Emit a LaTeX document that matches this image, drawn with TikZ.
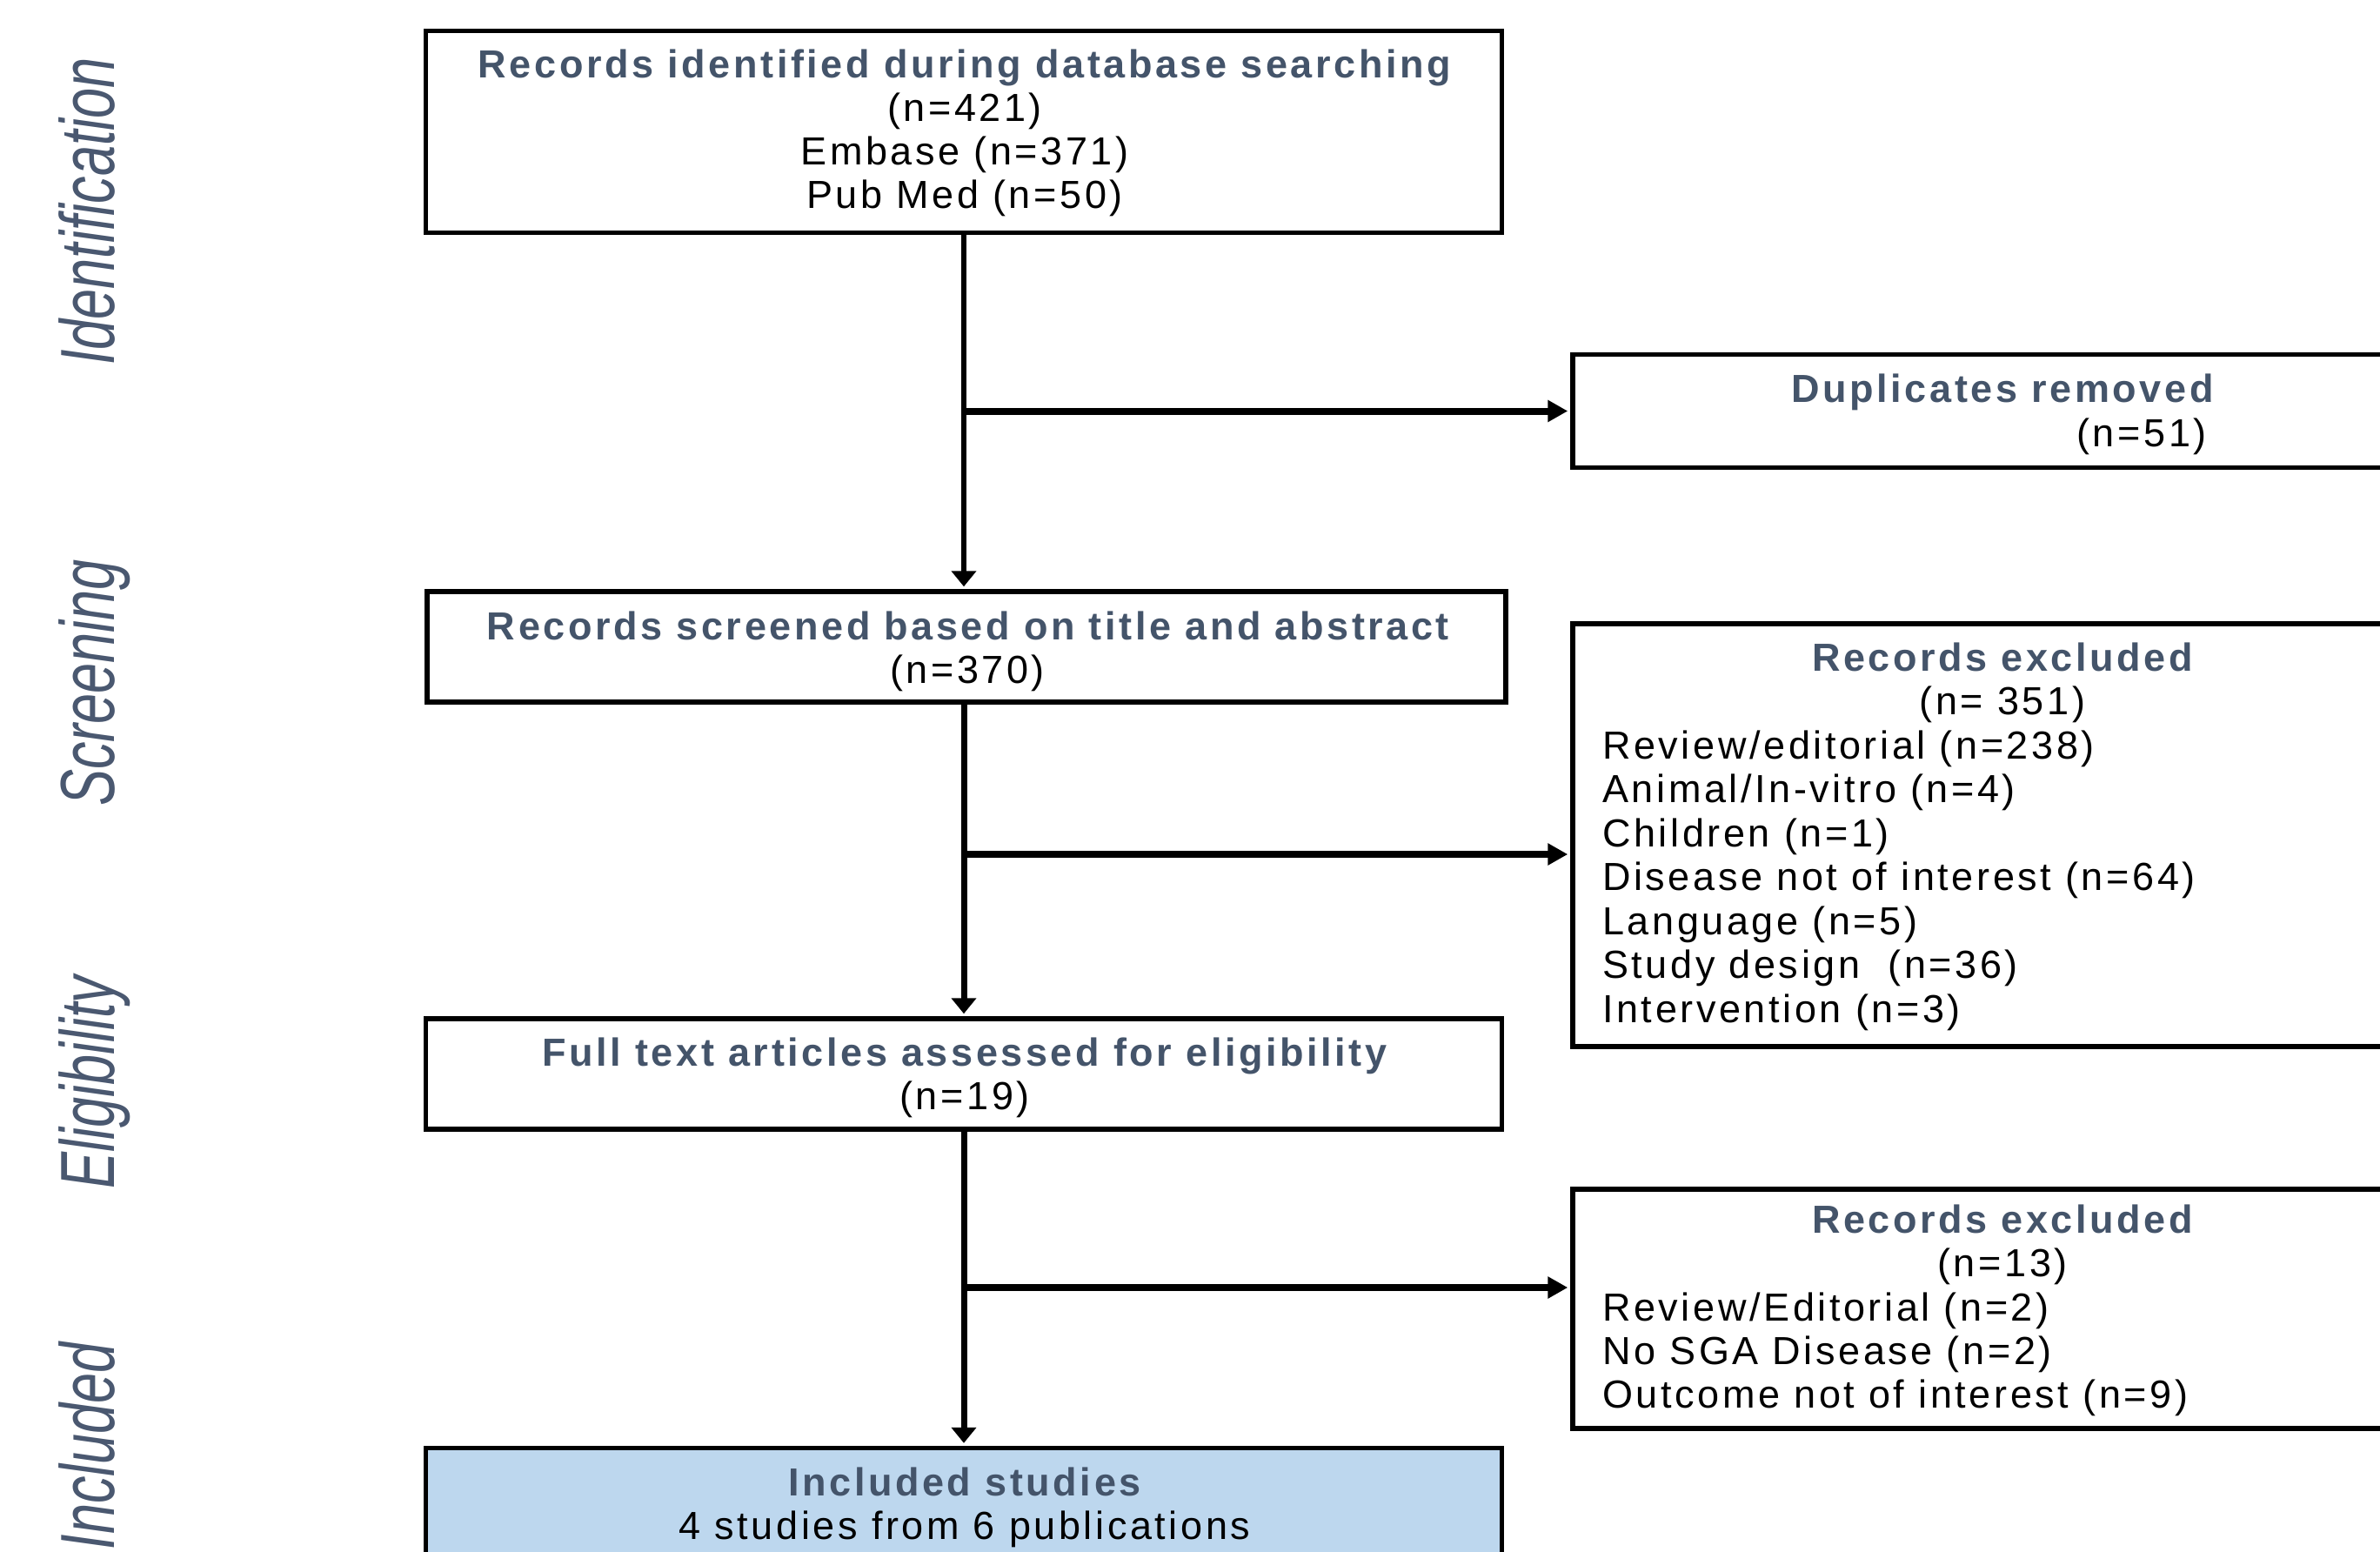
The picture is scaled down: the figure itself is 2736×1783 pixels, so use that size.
\documentclass[tikz,border=0pt]{standalone}
\usepackage{graphicx}
\usepackage{fontspec}
\setmainfont{Liberation Sans}
\newfontfamily\myspacedfam{Liberation Sans}[LetterSpace=8]
\newfontfamily\mysidefam{Liberation Sans}
\usetikzlibrary{arrows.meta}
\definecolor{titlec}{HTML}{44546A}
\definecolor{sidec}{HTML}{4A5870}
\definecolor{incfill}{HTML}{BDD7EE}
\newcommand\mybodyfont{\myspacedfam\fontsize{45}{50}\selectfont}
\newcommand\mytitlefont{\myspacedfam\bfseries\fontsize{45}{50}\selectfont}
\newcommand\mysidefont{\mysidefam\itshape\fontsize{63}{63}\selectfont}
\begin{document}
\begin{tikzpicture}[x=1pt,y=-1pt,
  boxst/.style={draw=black, line width=5.5pt, inner sep=0pt, minimum width=#1},
  ttl/.style={font=\mytitlefont, text=titlec, inner sep=0pt, anchor=base},
  txt/.style={font=\mybodyfont, text=black, inner sep=0pt, anchor=base},
  itm/.style={txt, anchor=base west},
  side/.style={font=\mysidefont, text=sidec, inner sep=0pt, anchor=base, rotate=90},
  vline/.style={line width=7pt, -{Triangle[length=18pt,width=28pt]}, shorten >=3pt},
  hline/.style={line width=8pt, -{Triangle[length=23pt,width=24pt]}, shorten >=3pt}
]
\useasboundingbox (0,0) rectangle (2736,1783);
\clip (0,0) rectangle (2736,1783);
\fill[white] (0,0) rectangle (2736,1783);

% side labels
\node[side] (sid) at (131,243) {\scalebox{1}[1.4]{Identification}};
\node[side] (sscr) at (131,785) {\scalebox{1}[1.4]{Screening}};
\node[side] (selig) at (131,1244) {\scalebox{1}[1.4]{Eligibility}};
\node[side] (sinc) at (131,1662) {\scalebox{1}[1.4]{Included}};

% boxes
\node[boxst=1237pt, minimum height=232pt] (b1) at (1108,151.5) {};
\node[boxst=972pt, minimum height=130pt] (dup) at (2294,472.5) {};
\node[boxst=1240pt, minimum height=127pt] (b2) at (1111,743.5) {};
\node[boxst=972pt, minimum height=486pt] (ex1) at (2294,960) {};
\node[boxst=1237pt, minimum height=127pt] (b3) at (1108,1234.5) {};
\node[boxst=972pt, minimum height=275pt] (ex2) at (2294,1504.5) {};
\node[boxst=1237pt, minimum height=140pt, fill=incfill] (b4) at (1108,1734.5) {};

% box 1 text
\node[ttl] (t1a) at (1109,89) {Records identified during database searching};
\node[txt] (t1b) at (1109,139) {(n=421)};
\node[txt] (t1c) at (1109,189) {Embase (n=371)};
\node[txt] (t1d) at (1109,239) {Pub Med (n=50)};

% duplicates
\node[ttl] (tda) at (2302,462) {Duplicates removed};
\node[txt] (tdb) at (2462,513) {(n=51)};

% box 2
\node[ttl] (t2a) at (1113,735) {Records screened based on title and abstract};
\node[txt] (t2b) at (1112,785) {(n=370)};

% excluded 1
\node[ttl] (te1a) at (2302,771) {Records excluded};
\node[txt] (te1b) at (2302,821.5) {(n=\ 351)};
\node[itm] (te1c) at (1842,872) {Review/editorial (n=238)};
\node[itm] (te1d) at (1842,922.5) {Animal/In-vitro (n=4)};
\node[itm] (te1e) at (1842,973) {Children (n=1)};
\node[itm] (te1f) at (1842,1023.5) {Disease not of interest (n=64)};
\node[itm] (te1g) at (1842,1074) {Language (n=5)};
\node[itm] (te1h) at (1842,1124.5) {Study design\ \ (n=36)};
\node[itm] (te1i) at (1842,1175) {Intervention (n=3)};

% box 3
\node[ttl] (t3a) at (1109,1225) {Full text articles assessed for eligibility};
\node[txt] (t3b) at (1109,1275) {(n=19)};

% excluded 2
\node[ttl] (te2a) at (2302,1417) {Records excluded};
\node[txt] (te2b) at (2302,1467.5) {(n=13)};
\node[itm] (te2c) at (1842,1518) {Review/Editorial (n=2)};
\node[itm] (te2d) at (1842,1568) {No SGA Disease (n=2)};
\node[itm] (te2e) at (1842,1618) {Outcome not of interest (n=9)};

% box 4
\node[ttl] (t4a) at (1109,1719) {Included studies};
\node[txt] (t4b) at (1109,1769) {4 studies from 6 publications};

% connectors
\coordinate (j1) at (b1.south |- dup.west);
\coordinate (k2) at (1108,982);
\coordinate (k3) at (1108,1480);
\draw[vline, line width=6pt] (b1.south) -- (b1.south |- b2.north);
\draw[hline] (j1) -- (dup.west);
\draw[vline] (b2.south -| b3.north) -- (b3.north);
\draw[hline] (k2) -- (k2 -| ex1.west);
\draw[vline] (b3.south) -- (b4.north);
\draw[hline] (k3) -- (k3 -| ex2.west);
\end{tikzpicture}
\end{document}
